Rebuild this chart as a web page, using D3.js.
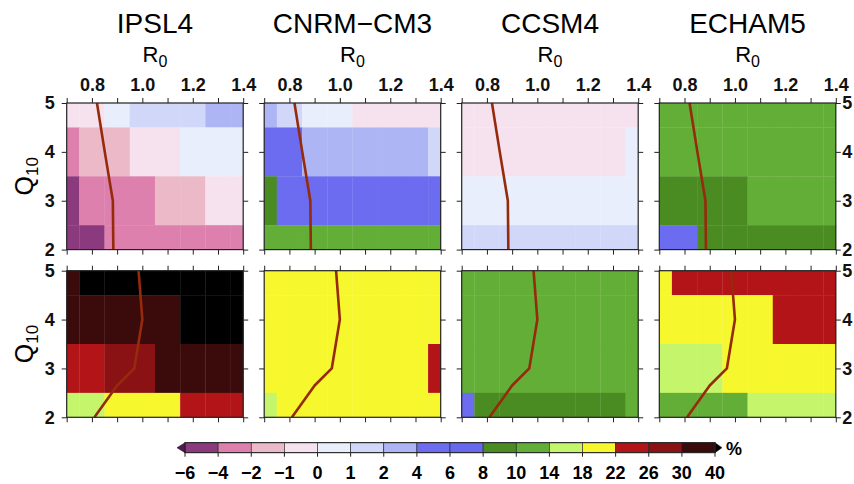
<!DOCTYPE html>
<html>
<head>
<meta charset="utf-8">
<script src="https://cdn.jsdelivr.net/npm/d3@7"></script>
<style>
  body { margin: 0; background: #fff; }
  svg { display: block; font-family: "Liberation Sans", Arial, Helvetica, sans-serif; }
</style>
</head>
<body>
<div id="chart"></div>
<script>
// grid axes
const r0Values = [0.7, 0.8, 0.9, 1.0, 1.1, 1.2, 1.3, 1.4];
const q10Values = [5, 4, 3, 2];
const models = ["IPSL4", "CNRM\u2212CM3", "CCSM4", "ECHAM5"];
const r0Ticks = [0.8, 1.0, 1.2, 1.4];

// colour classes (%)
const levels = [-6, -4, -2, -1, 0, 1, 2, 4, 6, 8, 10, 14, 18, 22, 26, 30, 40];
const levelLabels = ["\u22126", "\u22124", "\u22122", "\u22121", "0", "1", "2", "4", "6", "8", "10", "14", "18", "22", "26", "30", "40"];
const levelColors = ["#5a1456", "#8b3a7e", "#dd80ad", "#ebb9c8", "#f6e1ee", "#e8eefb", "#d1d7f8",
  "#aeb5f5", "#6c6cf0", "#6868ef", "#4a8c22", "#63ae37", "#c4f56a", "#f7f72d", "#b31418",
  "#8b1214", "#3b0a0a", "#000000"];

// top row values, rows Q10 = 5,4,3,2 ; cols R0 = 0.7..1.4
const topIPSL4 = [
  [-0.5, -0.5, 0.5, 1.5, 1.5, 1.5, 3, 3],
  [-3, -1.5, -1.5, -0.5, -0.5, 0.5, 0.5, 0.5],
  [-5, -3, -3, -3, -1.5, -1.5, -0.5, -0.5],
  [-5, -5, -3, -3, -3, -3, -3, -3]
];
const topCNRM = [
  [3, 1.5, 0.5, 0.5, -0.5, -0.5, -0.5, -0.5],
  [5, 5, 3, 3, 3, 3, 3, 1.5],
  [9, 5, 5, 5, 5, 5, 5, 5],
  [12, 12, 12, 12, 12, 12, 12, 12]
];
const topCCSM4 = [
  [-0.5, -0.5, -0.5, -0.5, -0.5, -0.5, -0.5, -0.5],
  [-0.5, -0.5, -0.5, -0.5, -0.5, -0.5, -0.5, 0.5],
  [0.5, 0.5, 0.5, 0.5, 0.5, 0.5, 0.5, 0.5],
  [1.5, 1.5, 1.5, 1.5, 1.5, 1.5, 1.5, 1.5]
];
const topECHAM5 = [
  [12, 12, 12, 12, 12, 12, 12, 12],
  [12, 12, 12, 12, 12, 12, 12, 12],
  [9, 9, 9, 9, 12, 12, 12, 12],
  [5, 5, 9, 9, 9, 9, 9, 9]
];

// bottom row values
const botIPSL4 = [
  [35, 45, 45, 45, 45, 45, 45, 45],
  [35, 35, 35, 35, 35, 45, 45, 45],
  [24, 24, 28, 28, 35, 35, 35, 35],
  [16, 16, 20, 20, 20, 24, 24, 24]
];
const botCNRM = [
  [20, 20, 20, 20, 20, 20, 20, 20],
  [20, 20, 20, 20, 20, 20, 20, 20],
  [20, 20, 20, 20, 20, 20, 20, 24],
  [16, 20, 20, 20, 20, 20, 20, 20]
];
const botCCSM4 = [
  [12, 12, 12, 12, 12, 12, 12, 12],
  [12, 12, 12, 12, 12, 12, 12, 12],
  [12, 12, 12, 12, 12, 12, 12, 12],
  [5, 9, 9, 9, 9, 9, 9, 12]
];
const botECHAM5 = [
  [20, 24, 24, 24, 24, 24, 24, 24],
  [20, 20, 20, 20, 20, 24, 24, 24],
  [16, 16, 16, 20, 20, 20, 20, 20],
  [12, 12, 12, 12, 16, 16, 16, 16]
];

// contour lines (same in every panel of a row)
const topLineQ = [5, 4, 3, 2];
const topLineR = [0.82, 0.851, 0.883, 0.885];
const botLineQ = [5, 4, 3, 2.65, 2];
const botLineR = [0.985, 1.0, 0.968, 0.9, 0.81];

const panels = [
  [topIPSL4, topCNRM, topCCSM4, topECHAM5],
  [botIPSL4, botCNRM, botCCSM4, botECHAM5]
];
const lines = [
  topLineQ.map((q, i) => ({q: q, r: topLineR[i]})),
  botLineQ.map((q, i) => ({q: q, r: botLineR[i]}))
];

const width = 854, height = 484;
const panelW = 176.5, panelH = 146.6;
const panelX = [66.7, 264.2, 461.7, 659.3];
const panelY = [103, 270.7];
const lineColor = "#962a0c";

const color = d3.scaleThreshold().domain(levels).range(levelColors);

const svg = d3.select("#chart").append("svg")
  .attr("width", width)
  .attr("height", height);

const x = d3.scaleLinear().domain([0.7, 1.4]).range([0, panelW]);
const y = d3.scaleLinear().domain([2, 5]).range([panelH, 0]);

function styleAxis(g, showLabels){
  g.select(".domain").remove();
  g.selectAll(".tick line").attr("stroke", "#222").attr("stroke-width", 1);
  g.selectAll(".tick text")
    .attr("fill", "#111")
    .style("font-size", "18px")
    .style("font-weight", "bold")
    .style("display", showLabels ? null : "none");
}

panels.forEach((row, ri) => {
  row.forEach((grid, ci) => {
    const g = svg.append("g")
      .attr("transform", `translate(${panelX[ci]},${panelY[ri]})`);

    //cells, each one centred on its R0 / Q10 value and clipped to the frame
    const cells = [];
    grid.forEach((vals, qi) => {
      vals.forEach((v, k) => {
        const r = r0Values[k], q = q10Values[qi];
        cells.push({
          x0: Math.max(0.7, r - 0.05), x1: Math.min(1.4, r + 0.05),
          y0: Math.max(2, q - 0.5), y1: Math.min(5, q + 0.5),
          v: v
        });
      });
    });
    g.selectAll("rect.cell")
      .data(cells)
      .join("rect")
      .attr("class", "cell")
      .attr("x", d => x(d.x0))
      .attr("y", d => y(d.y1))
      .attr("width", d => x(d.x1) - x(d.x0) + 0.3)
      .attr("height", d => y(d.y0) - y(d.y1) + 0.3)
      .attr("fill", d => color(d.v));

    //contour line
    g.append("path")
      .datum(lines[ri])
      .attr("d", d3.line().x(d => x(d.r)).y(d => y(d.q)))
      .attr("fill", "none")
      .attr("stroke", lineColor)
      .attr("stroke-width", 2.6)
      .attr("stroke-linejoin", "round");

    //axes on all four sides
    const xTicks = d3.range(0.7, 1.41, 0.1);
    g.append("g")
      .call(d3.axisTop(x).tickValues(xTicks).tickSize(5).tickPadding(7)
        .tickFormat(d => r0Ticks.some(t => Math.abs(t - d) < 1e-6) ? d3.format(".1f")(d) : ""))
      .call(a => styleAxis(a, ri === 0));
    g.append("g")
      .attr("transform", `translate(0,${panelH})`)
      .call(d3.axisBottom(x).tickValues(xTicks).tickSize(5).tickFormat(""))
      .call(a => styleAxis(a, false));
    g.append("g")
      .call(d3.axisLeft(y).tickValues([2, 3, 4, 5]).tickSize(5).tickPadding(7).tickFormat(d3.format("d")))
      .call(a => styleAxis(a, ci === 0));
    g.append("g")
      .attr("transform", `translate(${panelW},0)`)
      .call(d3.axisRight(y).tickValues([2, 3, 4, 5]).tickSize(5).tickPadding(1.5).tickFormat(d3.format("d")))
      .call(a => styleAxis(a, ci === 3));

    g.append("rect")
      .attr("width", panelW)
      .attr("height", panelH)
      .attr("fill", "none")
      .attr("stroke", "#222")
      .attr("stroke-width", 1.2);

    if(ri === 0){
      //model title and R0 label
      svg.append("text")
        .attr("x", panelX[ci] + panelW / 2)
        .attr("y", 33)
        .attr("text-anchor", "middle")
        .style("font-size", "28px")
        .text(models[ci]);
      const rl = svg.append("text")
        .attr("x", panelX[ci] + panelW / 2)
        .attr("y", 62)
        .attr("text-anchor", "middle")
        .style("font-size", "22px");
      rl.append("tspan").text("R");
      rl.append("tspan").attr("dy", 5).style("font-size", "16px").text("0");
    }
  });

  //Q10 label on the left
  const ql = svg.append("text")
    .attr("transform", `translate(33,${panelY[ri] + panelH / 2}) rotate(-90)`)
    .attr("text-anchor", "middle")
    .style("font-size", "25px");
  ql.append("tspan").text("Q");
  ql.append("tspan").attr("dy", 5).style("font-size", "17px").text("10");
});

//colorbar
const barX = d3.scalePoint().domain(d3.range(levels.length)).range([185, 715]);
const barY = 442.7, barH = 10;
const cb = svg.append("g");
cb.selectAll("rect")
  .data(d3.range(levels.length - 1))
  .join("rect")
  .attr("x", i => barX(i))
  .attr("y", barY)
  .attr("width", i => barX(i + 1) - barX(i))
  .attr("height", barH)
  .attr("fill", i => levelColors[i + 1])
  .attr("stroke", "#222")
  .attr("stroke-width", 0.6);
cb.append("path")
  .attr("d", `M${barX(0)},${barY} L${barX(0) - 8},${barY + barH / 2} L${barX(0)},${barY + barH} Z`)
  .attr("fill", levelColors[0]).attr("stroke", "#222").attr("stroke-width", 0.6);
const last = barX(levels.length - 1);
cb.append("path")
  .attr("d", `M${last},${barY} L${last + 7},${barY + barH / 2} L${last},${barY + barH} Z`)
  .attr("fill", levelColors[levelColors.length - 1]).attr("stroke", "#222").attr("stroke-width", 0.6);
cb.append("rect")
  .attr("x", barX(0)).attr("y", barY)
  .attr("width", last - barX(0)).attr("height", barH)
  .attr("fill", "none").attr("stroke", "#222").attr("stroke-width", 1);
cb.selectAll("line.tk")
  .data(d3.range(levels.length))
  .join("line")
  .attr("class", "tk")
  .attr("x1", i => barX(i)).attr("x2", i => barX(i))
  .attr("y1", barY + barH).attr("y2", barY + barH + 4)
  .attr("stroke", "#222");
cb.selectAll("text.lab")
  .data(levelLabels)
  .join("text")
  .attr("class", "lab")
  .attr("x", (d, i) => barX(i))
  .attr("y", 479)
  .attr("text-anchor", "middle")
  .style("font-size", "18px")
  .style("font-weight", "bold")
  .text(d => d);
cb.append("text")
  .attr("x", 726)
  .attr("y", 455)
  .style("font-size", "18px")
  .style("font-weight", "bold")
  .text("%");
</script>
</body>
</html>
